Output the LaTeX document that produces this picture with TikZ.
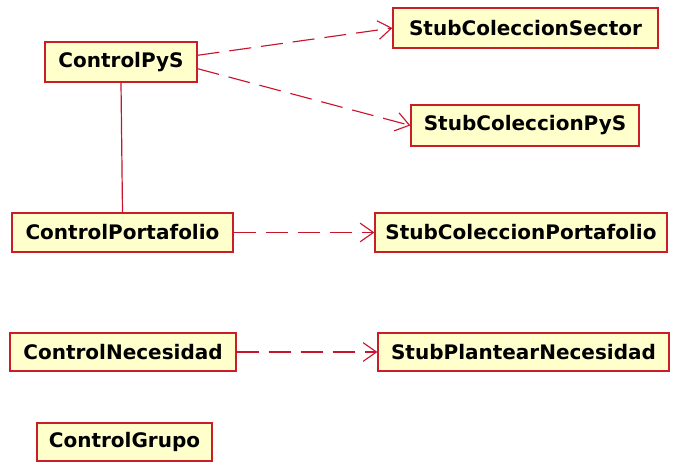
\documentclass[tikz,border=0pt]{standalone}
\usepackage{fontspec}
\setmainfont{DejaVu Sans}
\usetikzlibrary{arrows.meta}
\definecolor{boxfill}{RGB}{255,255,204}
\definecolor{boxline}{RGB}{200,30,40}
\definecolor{linkline}{RGB}{200,20,45}
\tikzset{
  cls/.style={draw=boxline, fill=boxfill, line width=0.9pt, inner sep=0pt,
    font=\bfseries\fontsize{15}{18}\selectfont, text=black},
  dep/.style={draw=linkline, line width=0.85pt, dash pattern=on 16.5pt off 7.5pt,
    -{Straight Barb[length=10pt,width=14pt,line width=0.85pt]}},
  assoc/.style={draw=linkline, line width=0.9pt}
}
\begin{document}
\begin{tikzpicture}[x=0.75pt,y=-0.75pt]
\useasboundingbox (0,0) rectangle (677,470);
% classes
\node[cls, minimum width=152*0.75pt, minimum height=40*0.75pt] (pys) at (121,62) {ControlPyS};
\node[cls, minimum width=265*0.75pt, minimum height=40*0.75pt] (sector) at (525.5,28) {StubColeccionSector};
\node[cls, minimum width=228*0.75pt, minimum height=41*0.75pt] (spys) at (525,125.5) {StubColeccionPyS};
\node[cls, minimum width=221*0.75pt, minimum height=39*0.75pt] (port) at (122.5,232.5) {ControlPortafolio};
\node[cls, minimum width=292*0.75pt, minimum height=39*0.75pt] (sport) at (521,232.5) {StubColeccionPortafolio};
\node[cls, minimum width=226*0.75pt, minimum height=38*0.75pt] (nec) at (123,352) {ControlNecesidad};
\node[cls, minimum width=291*0.75pt, minimum height=38*0.75pt] (snec) at (523.5,352) {StubPlantearNecesidad};
\node[cls, minimum width=175*0.75pt, minimum height=38*0.75pt] (grp) at (124.5,442) {ControlGrupo};
% connectors
\draw[assoc] (pys.south) -- (port.north);
\draw[dep] (pys.5) -- (sector.west);
\draw[dep] (pys.-5) -- (spys.west);
\draw[dep] (port.east) -- (sport.west);
\draw[dep] (nec.east) -- (snec.west);
\end{tikzpicture}
\end{document}
